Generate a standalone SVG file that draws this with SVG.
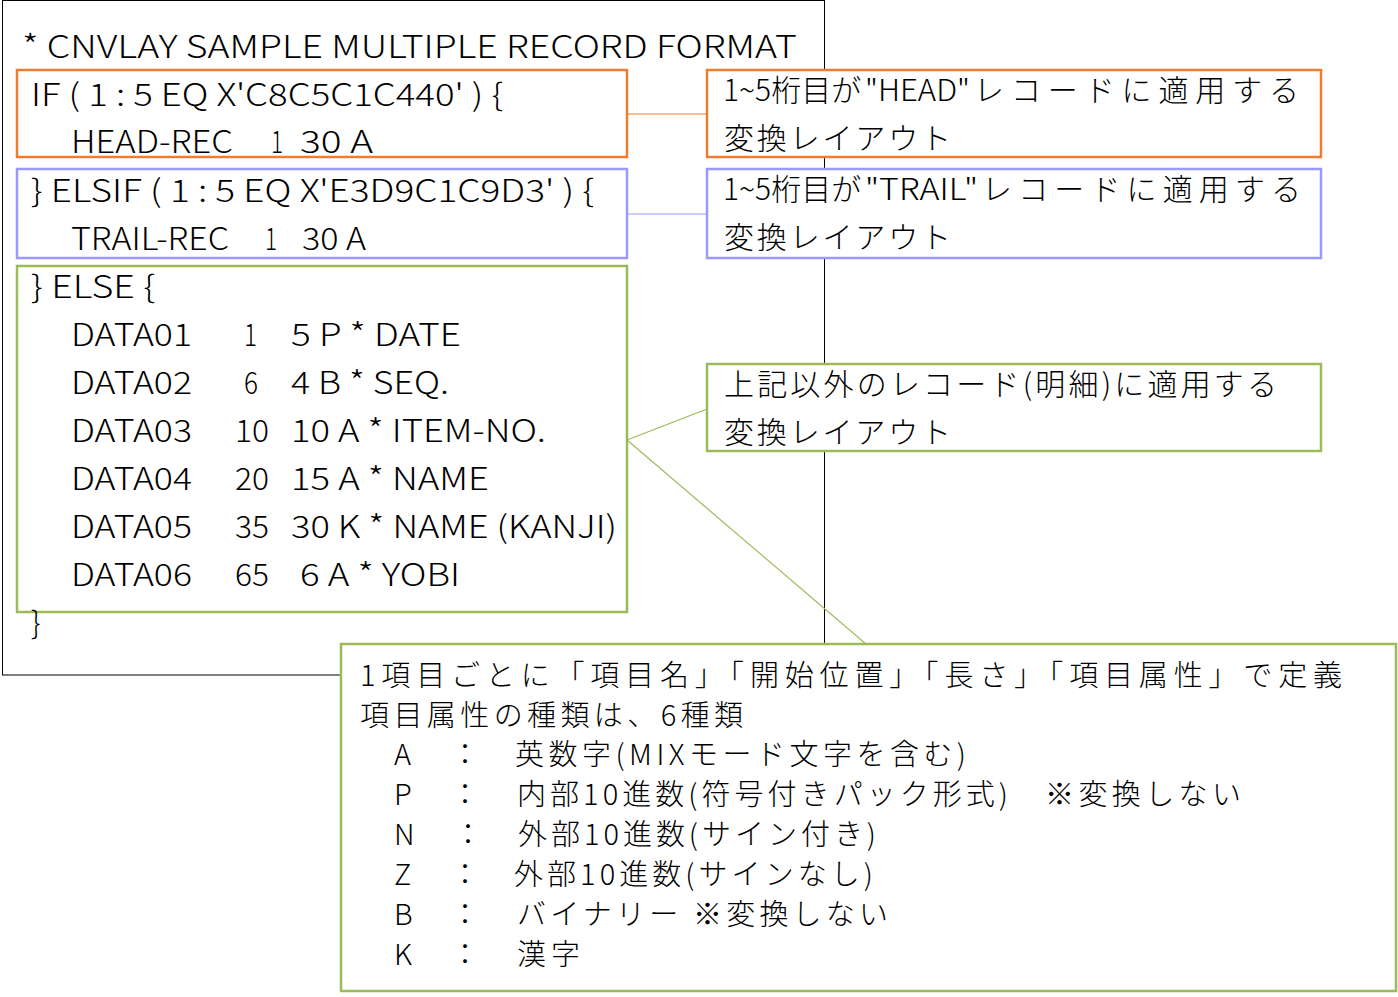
<svg xmlns="http://www.w3.org/2000/svg" width="1398" height="997" viewBox="0 0 1398 997">
<style>
text{font-family:"Noto Sans CJK JP","Noto Sans",sans-serif;fill:#000;font-weight:300}
.t{font-size:32px}
.c{font-size:31px}
.j{font-size:30px}
.k{font-size:29px}
.bo{fill:#fff;stroke:#ED7D31;stroke-width:2.5}
.bb{fill:#fff;stroke:#9999FF;stroke-width:2.5}
.bg{fill:#fff;stroke:#9BBB59;stroke-width:2.5}
.lo{stroke:#ED7D31;stroke-width:1.2;fill:none}
.lb{stroke:#9999FF;stroke-width:1.2;fill:none}
.lg{stroke:#9BBB59;stroke-width:1.2;fill:none}
</style>
<rect width="1398" height="997" fill="#fff"/>
<g id="frame">
<rect x="2.5" y="0.5" width="822" height="674.5" fill="#fff" stroke="#000" stroke-width="1"/>
<text class="t" x="22" y="58" textLength="775" lengthAdjust="spacingAndGlyphs">* CNVLAY SAMPLE MULTIPLE RECORD FORMAT</text>
</g>
<g id="connectors">
<line class="lo" x1="627" y1="114" x2="707" y2="114"/>
<line class="lb" x1="627" y1="214" x2="707" y2="214"/>
<line class="lg" x1="627" y1="440" x2="707" y2="409"/>
<line class="lg" x1="627" y1="440" x2="866" y2="644"/>
</g>
<g id="head-code">
<rect class="bo" x="17" y="70" width="610" height="87"/>
<text class="c" x="31" y="106" textLength="472" lengthAdjust="spacingAndGlyphs">IF ( 1 : 5 EQ X'C8C5C1C440' ) {</text>
<text class="c" x="71" y="153" textLength="162" lengthAdjust="spacingAndGlyphs">HEAD-REC</text>
<text class="c" x="271" y="153" textLength="12" lengthAdjust="spacingAndGlyphs">1</text>
<text class="c" x="300" y="153" textLength="73" lengthAdjust="spacingAndGlyphs">30 A</text>
</g>
<g id="trail-code">
<rect class="bb" x="17" y="169" width="610" height="89"/>
<text class="c" x="31" y="202" textLength="563" lengthAdjust="spacingAndGlyphs">} ELSIF ( 1 : 5 EQ X'E3D9C1C9D3' ) {</text>
<text class="c" x="71" y="250" textLength="158" lengthAdjust="spacingAndGlyphs">TRAIL-REC</text>
<text class="c" x="265" y="250" textLength="12" lengthAdjust="spacingAndGlyphs">1</text>
<text class="c" x="302" y="250" textLength="64" lengthAdjust="spacingAndGlyphs">30 A</text>
</g>
<g id="data-code">
<rect class="bg" x="17" y="266" width="610" height="346"/>
<text class="c" x="31" y="298" textLength="124" lengthAdjust="spacingAndGlyphs">} ELSE {</text>
<text class="c" x="71" y="346" textLength="121" lengthAdjust="spacingAndGlyphs">DATA01</text>
<text class="c" x="244" y="346" textLength="13" lengthAdjust="spacingAndGlyphs">1</text>
<text class="c" x="291" y="346" textLength="170" lengthAdjust="spacingAndGlyphs">5 P * DATE</text>
<text class="c" x="71" y="394" textLength="121" lengthAdjust="spacingAndGlyphs">DATA02</text>
<text class="c" x="244" y="394" textLength="14" lengthAdjust="spacingAndGlyphs">6</text>
<text class="c" x="291" y="394" textLength="158" lengthAdjust="spacingAndGlyphs">4 B * SEQ.</text>
<text class="c" x="71" y="442" textLength="121" lengthAdjust="spacingAndGlyphs">DATA03</text>
<text class="c" x="235" y="442" textLength="34" lengthAdjust="spacingAndGlyphs">10</text>
<text class="c" x="291" y="442" textLength="255" lengthAdjust="spacingAndGlyphs">10 A * ITEM-NO.</text>
<text class="c" x="71" y="490" textLength="121" lengthAdjust="spacingAndGlyphs">DATA04</text>
<text class="c" x="235" y="490" textLength="34" lengthAdjust="spacingAndGlyphs">20</text>
<text class="c" x="291" y="490" textLength="198" lengthAdjust="spacingAndGlyphs">15 A * NAME</text>
<text class="c" x="71" y="538" textLength="121" lengthAdjust="spacingAndGlyphs">DATA05</text>
<text class="c" x="235" y="538" textLength="34" lengthAdjust="spacingAndGlyphs">35</text>
<text class="c" x="291" y="538" textLength="326" lengthAdjust="spacingAndGlyphs">30 K * NAME (KANJI)</text>
<text class="c" x="71" y="586" textLength="121" lengthAdjust="spacingAndGlyphs">DATA06</text>
<text class="c" x="235" y="586" textLength="34" lengthAdjust="spacingAndGlyphs">65</text>
<text class="c" x="300" y="586" textLength="160" lengthAdjust="spacingAndGlyphs">6 A * YOBI</text>
<text class="c" x="31" y="634">}</text>
</g>
<g id="head-note">
<rect class="bo" x="707" y="70" width="614" height="87"/>
<text class="j" x="723" y="101">1~5桁目が</text>
<text class="j" x="865" y="101" textLength="105" lengthAdjust="spacingAndGlyphs">"HEAD"</text>
<text class="j" x="974" y="101" textLength="325" lengthAdjust="spacing">レコードに適用する</text>
<text class="j" x="724" y="149" textLength="227" lengthAdjust="spacing">変換レイアウト</text>
</g>
<g id="trail-note">
<rect class="bb" x="707" y="169" width="614" height="89"/>
<text class="j" x="723" y="200">1~5桁目が</text>
<text class="j" x="865" y="200" textLength="113" lengthAdjust="spacingAndGlyphs">"TRAIL"</text>
<text class="j" x="982" y="200" textLength="319" lengthAdjust="spacing">レコードに適用する</text>
<text class="j" x="724" y="248" textLength="227" lengthAdjust="spacing">変換レイアウト</text>
</g>
<g id="data-note">
<rect class="bg" x="707" y="364" width="614" height="87"/>
<text class="j" x="724" y="395" textLength="553" lengthAdjust="spacing">上記以外のレコード(明細)に適用する</text>
<text class="j" x="724" y="443" textLength="227" lengthAdjust="spacing">変換レイアウト</text>
</g>
<g id="attr-note">
<rect class="bg" x="341" y="644" width="1055" height="347"/>
<text class="k" x="360" y="686" textLength="982" lengthAdjust="spacing">1項目ごとに「項目名」「開始位置」「長さ」「項目属性」で定義</text>
<text class="k" x="360" y="726" textLength="383" lengthAdjust="spacing">項目属性の種類は、6種類</text>
<text class="k" x="394" y="765">A</text>
<text class="k" x="465" y="765" text-anchor="middle">：</text>
<text class="k" x="515" y="765" textLength="451" lengthAdjust="spacing">英数字(MIXモード文字を含む)</text>
<text class="k" x="394" y="805">P</text>
<text class="k" x="465" y="805" text-anchor="middle">：</text>
<text class="k" x="517" y="805" textLength="491" lengthAdjust="spacing">内部10進数(符号付きパック形式)</text>
<text class="k" x="1045" y="805" textLength="196" lengthAdjust="spacing">※変換しない</text>
<text class="k" x="394" y="845">N</text>
<text class="k" x="468" y="845" text-anchor="middle">：</text>
<text class="k" x="518" y="845" textLength="358" lengthAdjust="spacing">外部10進数(サイン付き)</text>
<text class="k" x="394" y="885">Z</text>
<text class="k" x="465" y="885" text-anchor="middle">：</text>
<text class="k" x="514" y="885" textLength="359" lengthAdjust="spacing">外部10進数(サインなし)</text>
<text class="k" x="394" y="925">B</text>
<text class="k" x="465" y="925" text-anchor="middle">：</text>
<text class="k" x="517" y="925" textLength="371" lengthAdjust="spacing">バイナリー ※変換しない</text>
<text class="k" x="394" y="965">K</text>
<text class="k" x="465" y="965" text-anchor="middle">：</text>
<text class="k" x="517" y="965" textLength="63" lengthAdjust="spacing">漢字</text>
</g>
</svg>
